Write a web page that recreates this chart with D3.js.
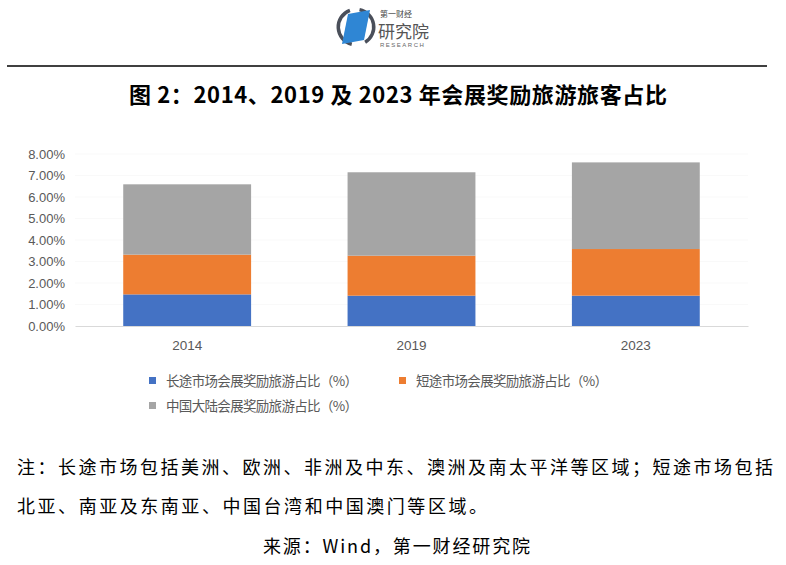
<!DOCTYPE html>
<html><head><meta charset="utf-8">
<script src="https://cdn.jsdelivr.net/npm/d3@7"></script>
<style>body{margin:0;background:#fff}svg{display:block}</style>
</head><body><svg id="c" width="786" height="565"></svg>
<script>
const categories = ["2014", "2019", "2023"];
const seriesNames = ["长途市场会展奖励旅游占比（%）", "短途市场会展奖励旅游占比（%）", "中国大陆会展奖励旅游占比（%）"];
const longHaul = [1.47, 1.41, 1.41];
const shortHaul = [1.85, 1.86, 2.17];
const mainland = [3.27, 3.88, 4.03];
const yTicks = [0, 1, 2, 3, 4, 5, 6, 7, 8];
const colors = ["#4472C4", "#ED7D31", "#A5A5A5"];
const title = "图 2：2014、2019 及 2023 年会展奖励旅游旅客占比";
const note1 = "注：长途市场包括美洲、欧洲、非洲及中东、澳洲及南太平洋等区域；短途市场包括";
const note2 = "北亚、南亚及东南亚、中国台湾和中国澳门等区域。";
const source = "来源：Wind，第一财经研究院";

const svg = d3.select("#c");
const CJK = "'Noto Sans CJK SC', sans-serif";
const LAT = "'Liberation Sans', Arial, sans-serif";

// logo
const logo = svg.append("g");
logo.append("path").attr("d", d3.arc()({innerRadius: 16, outerRadius: 19.5, startAngle: -2.9, endAngle: -0.35}))
  .attr("transform", "translate(356,27)").attr("fill", "#4a4f5a");
logo.append("path").attr("d", d3.arc()({innerRadius: 16, outerRadius: 19.5, startAngle: 0.2, endAngle: 2.6}))
  .attr("transform", "translate(356,27)").attr("fill", "#4a4f5a");
logo.append("path").attr("d", "M348,14 L370,10 L364,40 L342,44 Z").attr("fill", "#2f86d4");
logo.append("text").attr("x", 380).attr("y", 17).attr("font-family", CJK).attr("font-size", 8).attr("fill", "#444").text("第一财经");
logo.append("text").attr("x", 378).attr("y", 38).attr("font-family", CJK).attr("font-size", 17).attr("fill", "#555").text("研究院");
logo.append("text").attr("x", 380).attr("y", 47).attr("font-family", LAT).attr("font-size", 6).attr("letter-spacing", 1.5).attr("fill", "#666").text("RESEARCH");

// rule
svg.append("line").attr("x1", 7).attr("x2", 767).attr("y1", 66).attr("y2", 66).attr("stroke", "#000").attr("stroke-width", 1.5);

// title
svg.append("text").attr("x", 398).attr("y", 103).attr("text-anchor", "middle")
  .attr("font-family", CJK).attr("font-weight", "bold").attr("font-size", 22).attr("fill", "#000")
  .attr("textLength", 538).attr("lengthAdjust", "spacing").text(title);

// chart
const x = d3.scaleBand().domain(categories).range([75, 748]).paddingInner(0.43).paddingOuter(0.215);
const y = d3.scaleLinear().domain([0, 8]).range([326, 154]);

svg.append("g").selectAll("line").data(yTicks.slice(1)).join("line")
  .attr("x1", 75).attr("x2", 748).attr("y1", d => y(d)).attr("y2", d => y(d))
  .attr("stroke", "#f9f9f9").attr("stroke-width", 1);

const yAxis = svg.append("g").attr("transform", "translate(75,0)")
  .call(d3.axisLeft(y).tickValues(yTicks).tickFormat(d => d.toFixed(2) + "%").tickSize(0).tickPadding(10));
yAxis.select(".domain").remove();
yAxis.selectAll("text").attr("font-family", LAT).attr("font-size", 13).attr("fill", "#595959");

const rows = categories.map((c, i) => ({cat: c, s0: longHaul[i], s1: shortHaul[i], s2: mainland[i]}));
const stacked = d3.stack().keys(["s0", "s1", "s2"])(rows);
svg.append("g").selectAll("g").data(stacked).join("g").attr("fill", (d, i) => colors[i])
  .selectAll("rect").data(d => d).join("rect")
  .attr("x", d => x(d.data.cat)).attr("width", x.bandwidth())
  .attr("y", d => y(d[1])).attr("height", d => y(d[0]) - y(d[1]));

const xAxis = svg.append("g").attr("transform", "translate(0,326)")
  .call(d3.axisBottom(x).tickSize(0).tickPadding(14));
xAxis.select(".domain").attr("stroke", "#d9d9d9").attr("stroke-width", 1.2);
xAxis.selectAll("text").attr("font-family", LAT).attr("font-size", 13.5).attr("fill", "#595959");

// legend
const legPos = [[149, 381], [399, 381], [149, 406]];
const leg = svg.append("g").selectAll("g").data(seriesNames).join("g")
  .attr("transform", (d, i) => `translate(${legPos[i][0]},${legPos[i][1]})`);
leg.append("rect").attr("x", 0).attr("y", -4).attr("width", 7).attr("height", 7).attr("fill", (d, i) => colors[i]);
leg.append("text").attr("x", 17).attr("y", 0).attr("dy", "0.36em").attr("font-family", CJK).attr("font-size", 13.5)
  .attr("fill", "#595959").attr("textLength", 192).attr("lengthAdjust", "spacing").text(d => d);

// notes
const nf = svg.append("g").attr("font-family", CJK).attr("font-size", 18).attr("fill", "#000");
nf.append("text").attr("x", 17).attr("y", 474).attr("textLength", 756).attr("lengthAdjust", "spacing").text(note1);
nf.append("text").attr("x", 17).attr("y", 513).attr("textLength", 470).attr("lengthAdjust", "spacing").text(note2);
nf.append("text").attr("x", 263).attr("y", 553).attr("textLength", 267).attr("lengthAdjust", "spacing").text(source);
</script></body></html>
